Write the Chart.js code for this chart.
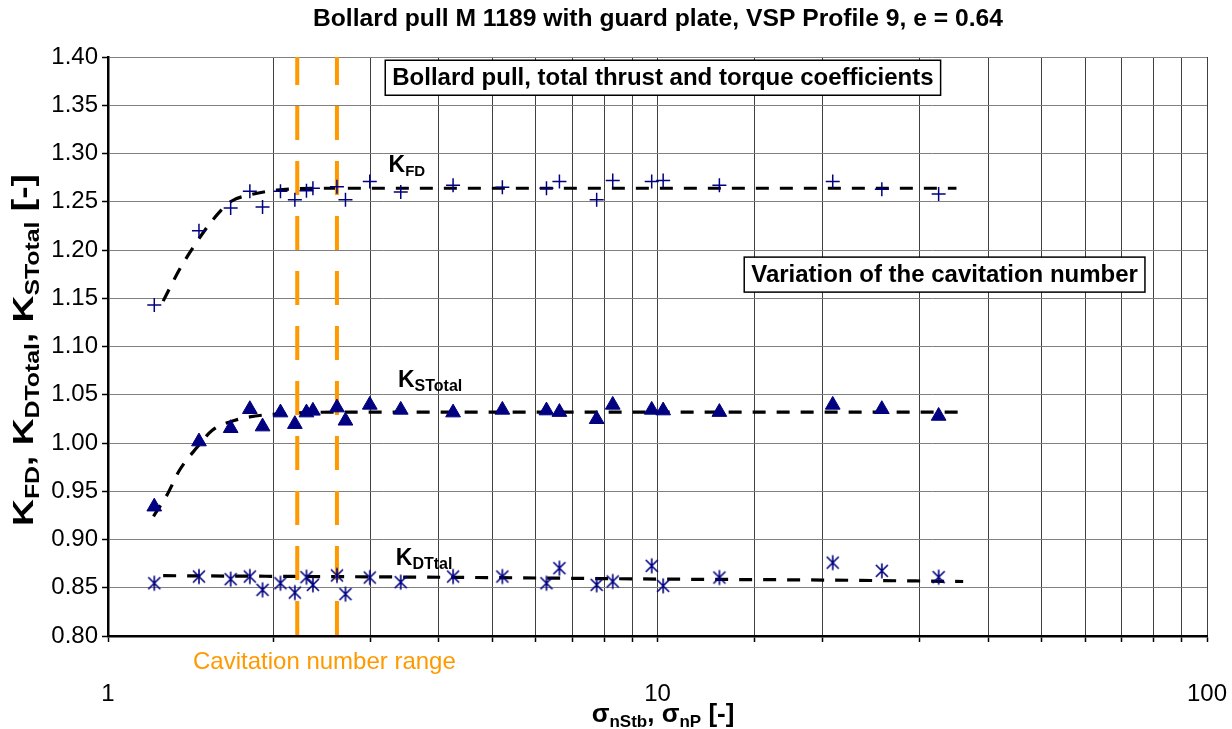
<!DOCTYPE html>
<html>
<head>
<meta charset="utf-8">
<script src="https://cdn.jsdelivr.net/npm/chart.js@4/dist/chart.umd.min.js"></script>
<style>
  body { margin: 0; background: #fff; }
  #wrap { width: 1232px; height: 729px; position: relative; }
</style>
</head>
<body>
<div id="wrap"><canvas id="myChart"></canvas></div>
<script>
// measured points, sigma values shared by all three coefficients
const sigma = [1.214, 1.464, 1.672, 1.812, 1.911, 2.06, 2.188, 2.297, 2.36, 2.61, 2.705, 2.995, 3.41,
    4.246, 5.22, 6.28, 6.63, 7.75, 8.29, 9.76, 10.24, 12.96, 20.84, 25.6, 32.48];
const kFD = [1.143, 1.220, 1.2435, 1.261, 1.2446, 1.261, 1.252, 1.2615, 1.264, 1.2656, 1.252, 1.271, 1.260,
    1.267, 1.265, 1.264, 1.271, 1.252, 1.272, 1.271, 1.272, 1.267, 1.271, 1.263, 1.258];
const kSTotal = [0.934, 1.0015, 1.0153, 1.035, 1.017, 1.0315, 1.0195, 1.0315, 1.0333, 1.0367, 1.023, 1.0395, 1.0343,
    1.0315, 1.0343, 1.0336, 1.032, 1.0246, 1.0395, 1.0343, 1.0336, 1.032, 1.0395, 1.035, 1.028];
const kDTotal = [0.8547, 0.8616, 0.8589, 0.8616, 0.8478, 0.8547, 0.845, 0.861, 0.853, 0.8627, 0.8434, 0.8606, 0.8558,
    0.8616, 0.8616, 0.8547, 0.8703, 0.853, 0.8565, 0.8727, 0.852, 0.8606, 0.876, 0.8675, 0.861];

// trend lines
const fitFDx = [1.26, 1.35, 1.43, 1.55, 1.67, 1.81, 2.03, 2.5, 35];
const fitFDy = [1.147, 1.180, 1.203, 1.231, 1.250, 1.257, 1.262, 1.264, 1.264];
const fitSTx = [1.21, 1.28, 1.35, 1.45, 1.55, 1.67, 1.81, 2.03, 2.6, 35.8];
const fitSTy = [0.924, 0.946, 0.972, 0.995, 1.0135, 1.022, 1.027, 1.030, 1.032, 1.032];
const fitDTx = [1.26, 5, 10, 20, 36];
const fitDTy = [0.8625, 0.8605, 0.859, 0.858, 0.8565];

// cavitation number range
const cavRange = [2.21, 2.61];

const yTicks = [0.80, 1.40];
const xLabels = [1, 10, 100];

const FONT = "'Liberation Sans', Arial, Helvetica, sans-serif";
const NAVY = '#000080';
const ORANGE = '#FF9900';

function pts(xs, ys) {
    return xs.map((x, i) => ({ x: x, y: ys[i] }));
}

// asterisk marker like the excel one
function makeStar() {
    const c = document.createElement('canvas');
    c.width = 18; c.height = 18;
    const g = c.getContext('2d');
    g.strokeStyle = NAVY;
    g.lineWidth = 1.6;
    g.beginPath();
    g.moveTo(9, 1.5); g.lineTo(9, 16.5);
    g.moveTo(3, 3); g.lineTo(15, 15);
    g.moveTo(15, 3); g.lineTo(3, 15);
    g.stroke();
    return c;
}

// draws text with subscripts, parts = [[text, size, isSub], ...]
// fitW stretches the whole run to that width (the source font is wider than arial)
function richText(ctx, parts, x, y, align, drop, fitW) {
    drop = drop || 4;
    let total = 0;
    parts.forEach(p => {
        ctx.font = 'bold ' + p[1] + 'px ' + FONT;
        total += ctx.measureText(p[0]).width;
    });
    const k = fitW ? fitW / total : 1;
    ctx.save();
    ctx.translate(x, y);
    ctx.scale(k, 1);
    let cx = align === 'center' ? -total / 2 : 0;
    ctx.textAlign = 'left';
    ctx.textBaseline = 'alphabetic';
    parts.forEach(p => {
        ctx.font = 'bold ' + p[1] + 'px ' + FONT;
        ctx.fillText(p[0], cx, p[2] ? drop : 0);
        cx += ctx.measureText(p[0]).width;
    });
    ctx.restore();
}

function textBox(ctx, txt, cx, cy) {
    ctx.font = 'bold 24px ' + FONT;
    const w = ctx.measureText(txt).width + 14;
    const h = 35;
    ctx.fillStyle = '#fff';
    ctx.fillRect(cx - w / 2, cy - h / 2, w, h);
    ctx.strokeStyle = '#000';
    ctx.lineWidth = 1.5;
    ctx.strokeRect(cx - w / 2, cy - h / 2, w, h);
    ctx.fillStyle = '#000';
    ctx.textAlign = 'center';
    ctx.textBaseline = 'middle';
    ctx.fillText(txt, cx, cy + 1);
}

const extras = {
    id: 'extras',
    afterDraw(chart) {
        const ctx = chart.ctx;
        const xs = chart.scales.x, ys = chart.scales.y;
        ctx.save();
        ctx.fillStyle = '#000';

        // title
        richText(ctx, [['Bollard pull M 1189 with guard plate, VSP Profile 9, e = 0.64', 23]], 658, 26, 'center', 0, 690);

        // boxes
        textBox(ctx, 'Bollard pull, total thrust and torque coefficients', xs.getPixelForValue(10.23), ys.getPixelForValue(1.3785));
        textBox(ctx, 'Variation of the cavitation number', xs.getPixelForValue(33.3), ys.getPixelForValue(1.1745));

        // series labels
        ctx.fillStyle = '#000';
        richText(ctx, [['K', 23], ['FD', 15, true]], xs.getPixelForValue(3.24), ys.getPixelForValue(1.281));
        richText(ctx, [['K', 23], ['STotal', 16, true]], xs.getPixelForValue(3.37), ys.getPixelForValue(1.0585));
        richText(ctx, [['K', 23], ['DTtal', 16, true]], xs.getPixelForValue(3.34), ys.getPixelForValue(0.874));

        // axis titles
        richText(ctx, [['\u03C3', 26], ['nStb', 17, true], [', \u03C3', 26], ['nP', 17, true], [' [-]', 26]], 663, 722, 'center', 5);
        ctx.save();
        ctx.translate(33, 350);
        ctx.rotate(-Math.PI / 2);
        richText(ctx, [['K', 30], ['FD', 20, true], [', K', 30], ['DTotal', 20, true], [', K', 30], ['STotal', 20, true], [' [-]', 30]], 0, 0, 'center', 6, 352);
        ctx.restore();

        // range label
        ctx.fillStyle = ORANGE;
        ctx.font = '24px ' + FONT;
        ctx.textAlign = 'left';
        ctx.textBaseline = 'alphabetic';
        ctx.fillText('Cavitation number range', 193, 669);
        ctx.restore();
    }
};

const markerBase = { showLine: false, order: 0 };
const fitBase = {
    showLine: true, pointRadius: 0, borderColor: '#000', borderWidth: 3.2,
    borderDash: [13, 11], cubicInterpolationMode: 'monotone', fill: false, order: 2
};
const cavBase = {
    showLine: true, pointRadius: 0, borderColor: ORANGE, borderWidth: 4,
    borderDash: [34, 21], borderDashOffset: 6, fill: false, order: 1
};

const ctx = document.getElementById('myChart').getContext('2d');
const myChart = new Chart(ctx, {
    type: 'scatter',
    data: {
        datasets: [
            Object.assign({ label: 'KFD', data: pts(sigma, kFD), pointStyle: 'cross', pointRadius: 7,
                borderColor: NAVY, pointBorderWidth: 1.5 }, markerBase),
            Object.assign({ label: 'KSTotal', data: pts(sigma, kSTotal), pointStyle: 'triangle', pointRadius: 8.5,
                backgroundColor: NAVY, borderColor: NAVY, pointBorderWidth: 1 }, markerBase),
            Object.assign({ label: 'KDTotal', data: pts(sigma, kDTotal), pointStyle: makeStar(), pointRadius: 9 }, markerBase),
            Object.assign({ label: 'cav lo', data: [{ x: cavRange[0], y: yTicks[1] }, { x: cavRange[0], y: yTicks[0] }] }, cavBase),
            Object.assign({ label: 'cav hi', data: [{ x: cavRange[1], y: yTicks[1] }, { x: cavRange[1], y: yTicks[0] }] }, cavBase),
            Object.assign({ label: 'fit FD', data: pts(fitFDx, fitFDy) }, fitBase),
            Object.assign({ label: 'fit ST', data: pts(fitSTx, fitSTy) }, fitBase),
            Object.assign({ label: 'fit DT', data: pts(fitDTx, fitDTy) }, fitBase)
        ]
    },
    options: {
        responsive: true,
        maintainAspectRatio: false,
        animation: false,
        layout: { padding: { top: 57, right: 25, left: 0, bottom: 0 } },
        plugins: { legend: { display: false }, tooltip: { enabled: false }, title: { display: false } },
        scales: {
            x: {
                type: 'logarithmic',
                min: 1,
                max: 100,
                afterFit: s => { s.height = 93; s.paddingLeft = 0; s.paddingRight = 0; },
                border: { color: '#000', width: 2.5 },
                grid: { color: '#404040', lineWidth: 1, drawTicks: true, tickLength: 6, tickColor: '#000', tickWidth: 1.5 },
                ticks: {
                    autoSkip: false,
                    maxRotation: 0,
                    padding: 38,
                    color: '#000',
                    font: { family: FONT, size: 24 },
                    callback: v => xLabels.includes(v) ? String(v) : ''
                }
            },
            y: {
                min: yTicks[0],
                max: yTicks[1],
                afterFit: s => { s.width = 108; s.paddingTop = 0; s.paddingBottom = 0; },
                border: { color: '#000', width: 2.5 },
                grid: { color: '#808080', lineWidth: 1, drawTicks: true, tickLength: 6, tickColor: '#000', tickWidth: 1.5 },
                ticks: {
                    stepSize: 0.05,
                    padding: 4,
                    color: '#000',
                    font: { family: FONT, size: 24 },
                    callback: v => Number(v).toFixed(2)
                }
            }
        }
    },
    plugins: [extras]
});
</script>
</body>
</html>
